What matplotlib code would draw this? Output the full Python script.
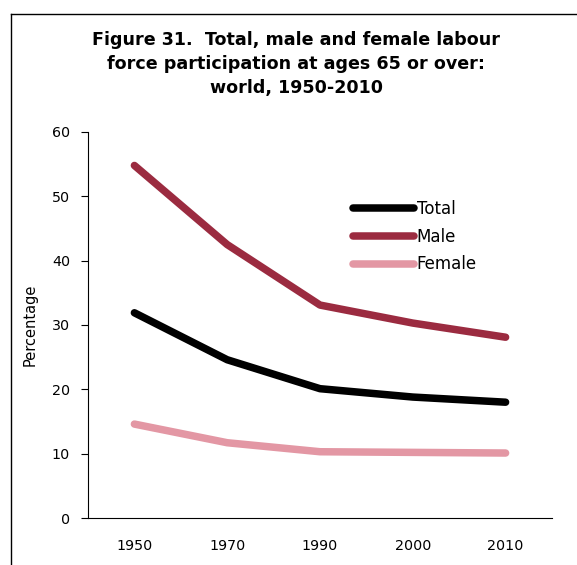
import matplotlib.pyplot as plt
from matplotlib.lines import Line2D

years = ['1950', '1970', '1990', '2000', '2010']
total = [31.9, 24.6, 20.1, 18.8, 18.0]
male = [54.8, 42.5, 33.1, 30.3, 28.1]
female = [14.6, 11.7, 10.3, 10.2, 10.1]

plt.rcParams['font.family'] = ['DejaVu Sans']

fig = plt.figure(figsize=(5.77, 5.65), dpi=100)
W, H = 577, 565
ax = fig.add_axes([88 / W, 1 - 518 / H, (552 - 88) / W, (518 - 132) / H])

x = list(range(len(years)))
ax.plot(x, total, color='black', lw=5.4, solid_capstyle='round', solid_joinstyle='round', label='Total')
ax.plot(x, male, color='#9b2b40', lw=5.4, solid_capstyle='round', solid_joinstyle='round', label='Male')
ax.plot(x, female, color='#e397a4', lw=5.4, solid_capstyle='round', solid_joinstyle='round', label='Female')

ax.set_xlim(-0.5, 4.5)
ax.set_ylim(0, 60)
ax.set_yticks(range(0, 61, 10))
ax.set_xticks(x)
ax.set_xticklabels(years)
ax.spines['top'].set_visible(False)
ax.spines['right'].set_visible(False)
ax.spines['left'].set_linewidth(0.8)
ax.spines['bottom'].set_linewidth(0.8)
ax.tick_params(axis='y', direction='out', length=5, width=0.8, labelsize=10.3, pad=8)
ax.tick_params(axis='x', length=0, labelsize=10.3, pad=15)
ax.set_ylabel('Percentage', fontsize=10.5, labelpad=10)

leg = ax.legend(loc='upper left', bbox_to_anchor=((346 - 88) / 464, 1 - (193.5 - 132) / 386),
                frameon=False, fontsize=12, handlelength=3.66, handletextpad=0.18,
                labelspacing=0.58, borderaxespad=0)

fig.text(296 / W, 1 - 64 / H, 'Figure 31.  Total, male and female labour\n'
         'force participation at ages 65 or over:\nworld, 1950-2010',
         ha='center', va='center', fontsize=12.6, fontweight='bold', linespacing=1.4)

# frame around figure (top and left edges)
fig.add_artist(Line2D([11 / W, 1], [1 - 14 / H, 1 - 14 / H], color='black', lw=1.0))
fig.add_artist(Line2D([11 / W, 11 / W], [0, 1 - 14 / H], color='black', lw=1.0))

fig.savefig('out.png', dpi=100)
